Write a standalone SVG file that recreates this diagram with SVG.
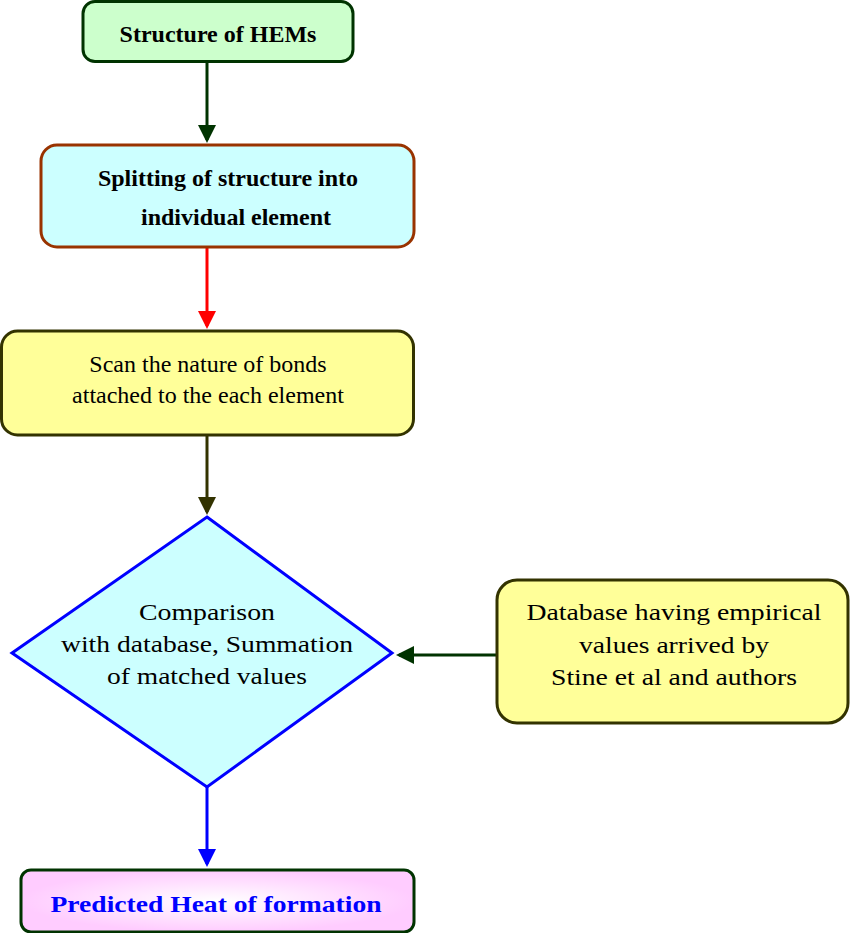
<svg xmlns="http://www.w3.org/2000/svg" width="850" height="933" viewBox="0 0 850 933">
<style>
text{font-family:"Liberation Serif","Times New Roman",serif;font-size:24px;fill:#000;text-anchor:middle}
.b{font-weight:bold}
.box{stroke-width:3}
.c{fill:none;stroke-width:3}
</style>
<defs>
<marker id="ag" markerWidth="6" markerHeight="6" refX="5" refY="3" orient="auto" markerUnits="strokeWidth"><path d="M0,0L6,3L0,6z" fill="#003300"/></marker>
<marker id="ar" markerWidth="6" markerHeight="6" refX="5" refY="3" orient="auto" markerUnits="strokeWidth"><path d="M0,0L6,3L0,6z" fill="#ff0000"/></marker>
<marker id="ao" markerWidth="6" markerHeight="6" refX="5" refY="3" orient="auto" markerUnits="strokeWidth"><path d="M0,0L6,3L0,6z" fill="#333300"/></marker>
<marker id="ab" markerWidth="6" markerHeight="6" refX="5" refY="3" orient="auto" markerUnits="strokeWidth"><path d="M0,0L6,3L0,6z" fill="#0000ff"/></marker>
<radialGradient id="pk"><stop offset="0" stop-color="#ffffff"/><stop offset="1" stop-color="#ffccff"/></radialGradient>
</defs>
<g id="connectors">
<line class="c" x1="207" y1="62" x2="207" y2="140" stroke="#003300" marker-end="url(#ag)"/>
<line class="c" x1="207" y1="247" x2="207" y2="326" stroke="#ff0000" marker-end="url(#ar)"/>
<line class="c" x1="207" y1="435" x2="207" y2="512" stroke="#333300" marker-end="url(#ao)"/>
<line class="c" x1="497" y1="655" x2="399" y2="655" stroke="#003300" marker-end="url(#ag)"/>
<line class="c" x1="207" y1="787" x2="207" y2="864" stroke="#0000ff" marker-end="url(#ab)"/>
</g>
<g id="n1"><rect class="box" x="83" y="1.5" width="270" height="60" rx="12" fill="#ccffcc" stroke="#003300"/>
<text class="b" x="218" y="42">Structure of HEMs</text></g>
<g id="n2"><rect class="box" x="41" y="145" width="373" height="102" rx="16" fill="#ccffff" stroke="#993300"/>
<text class="b" x="228" y="186">Splitting of structure into</text>
<text class="b" x="236" y="225">individual element</text></g>
<g id="n3"><rect class="box" x="1.5" y="331" width="412" height="104" rx="16" fill="#ffff99" stroke="#333300"/>
<text x="208" y="372">Scan the nature of bonds</text>
<text x="208" y="403">attached to the each element</text></g>
<g id="n4"><polygon points="207,517 392,653 207,787 12,653" fill="#ccffff" stroke="#0000ff" stroke-width="3"/>
<text x="207" y="620" textLength="136" lengthAdjust="spacingAndGlyphs">Comparison</text>
<text x="207" y="652" textLength="292" lengthAdjust="spacingAndGlyphs">with database, Summation</text>
<text x="207" y="684" textLength="200" lengthAdjust="spacingAndGlyphs">of matched values</text></g>
<g id="n5"><rect class="box" x="497" y="580" width="351" height="143" rx="20" fill="#ffff99" stroke="#333300"/>
<text x="674" y="620" textLength="295" lengthAdjust="spacingAndGlyphs">Database having empirical</text>
<text x="674" y="653" textLength="190" lengthAdjust="spacingAndGlyphs">values arrived by</text>
<text x="674" y="685" textLength="246" lengthAdjust="spacingAndGlyphs">Stine et al and authors</text></g>
<g id="n6"><rect class="box" x="21" y="870" width="393" height="62" rx="10" fill="url(#pk)" stroke="#003300"/>
<text class="b" x="216" y="912" fill="#0000ff" style="fill:#0000ff" textLength="331" lengthAdjust="spacingAndGlyphs">Predicted Heat of formation</text></g>
</svg>
